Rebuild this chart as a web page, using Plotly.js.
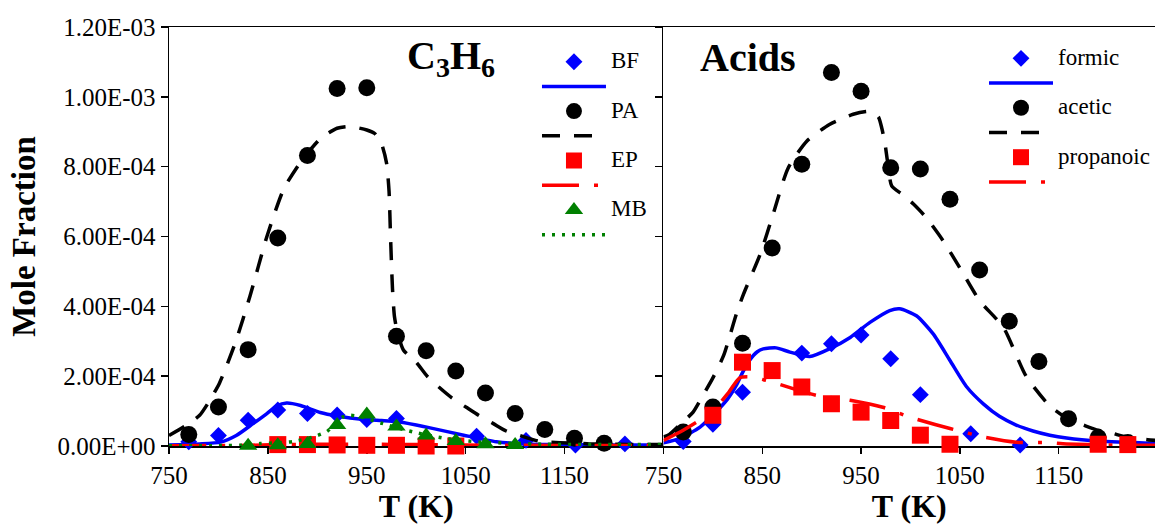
<!DOCTYPE html>
<html>
<head>
<meta charset="utf-8">
<script src="https://cdn.plot.ly/plotly-3.0.1.min.js"></script>
<style>html,body{margin:0;padding:0;background:#fff;}#chart{width:1155px;height:527px;}</style>
</head>
<body>
<div id="chart"></div>
<script>
// ---------- tick labels ----------
var xTickVals = [750, 850, 950, 1050, 1150];
var xTickText = ["750", "850", "950", "1050", "1150"];
var yTickVals = [0, 2e-4, 4e-4, 6e-4, 8e-4, 1e-3, 1.2e-3];
var yTickText = ["0.00E+00", "2.00E-04", "4.00E-04", "6.00E-04", "8.00E-04", "1.00E-03", "1.20E-03"];

// ---------- left panel: C3H6 (experimental points) ----------
var T_BF = [770, 800, 830, 860, 890, 920, 950, 980, 1061, 1111, 1161, 1211];
var BF   = [1.2e-5, 3.0e-5, 7.4e-5, 1.03e-4, 9.3e-5, 8.9e-5, 7.6e-5, 7.9e-5, 2.8e-5, 1.6e-5, 3e-6, 6e-6];
var T_PA = [770, 800, 830, 860, 890, 920, 950, 980, 1010, 1040, 1070, 1100, 1130, 1160, 1190];
var PA   = [3.3e-5, 1.12e-4, 2.76e-4, 5.96e-4, 8.32e-4, 1.024e-3, 1.026e-3, 3.14e-4, 2.73e-4, 2.15e-4, 1.52e-4, 9.3e-5, 4.7e-5, 2.2e-5, 8e-6];
var T_EP = [860, 890, 920, 950, 980, 1010, 1040];
var EP   = [4e-6, 4e-6, 3e-6, 2e-6, 2e-6, 0, 0];
var T_MB = [830, 860, 890, 920, 950, 980, 1010, 1040, 1070, 1100];
var MB   = [1e-6, 2e-6, 6e-6, 6e-5, 9e-5, 5.6e-5, 3e-5, 1.4e-5, 5e-6, 3e-6];

// ---------- left panel: model curves ----------
var T_BF_m = [750, 781, 802, 818, 835, 849, 859, 869, 883, 903, 920, 947, 965, 980, 1000, 1014, 1048, 1081, 1110, 1150, 1200, 1250];
var BF_m   = [3e-6, 6e-6, 1.1e-5, 3.0e-5, 6.4e-5, 9.3e-5, 1.15e-4, 1.23e-4, 1.16e-4, 9.6e-5, 8.6e-5, 7.6e-5, 7.3e-5, 7.0e-5, 6.0e-5, 5.2e-5, 3.1e-5, 1.2e-5, 6e-6, 4e-6, 3e-6, 3e-6];
var T_PA_m = [750, 765, 781, 790, 801, 817, 832, 849, 866, 883, 903, 920, 933, 950, 958, 965, 970, 972.5, 974, 976, 978, 981, 987, 1000, 1011, 1024, 1036, 1051, 1063, 1078, 1091, 1105, 1124, 1141, 1163, 1175, 1200, 1225, 1250];
var PA_m   = [3.0e-5, 5.5e-5, 8.8e-5, 1.25e-4, 1.8e-4, 2.95e-4, 4.3e-4, 6.0e-4, 7.36e-4, 8.13e-4, 8.8e-4, 9.1e-4, 9.15e-4, 9.05e-4, 8.95e-4, 8.65e-4, 8.1e-4, 7.3e-4, 6.0e-4, 4.5e-4, 3.7e-4, 3.25e-4, 2.75e-4, 2.4e-4, 2.0e-4, 1.66e-4, 1.38e-4, 1.1e-4, 8.8e-5, 6.4e-5, 4.3e-5, 3.0e-5, 1.4e-5, 1.0e-5, 8e-6, 6e-6, 5e-6, 4e-6, 4e-6];
var T_EP_m = [750, 830, 860, 900, 950, 1000, 1050, 1100, 1250];
var EP_m   = [1e-6, 2e-6, 4e-6, 5e-6, 5e-6, 4e-6, 3e-6, 2e-6, 1e-6];
var T_MB_m = [750, 800, 830, 842, 860, 876, 896, 910, 918, 925, 933, 945, 964, 997, 1031, 1065, 1095, 1130, 1200, 1250];
var MB_m   = [1e-6, 1e-6, 3e-6, 7e-6, 9e-6, 1.3e-5, 2.6e-5, 4.2e-5, 6.5e-5, 8.2e-5, 8.8e-5, 8.3e-5, 6.6e-5, 4.0e-5, 2.1e-5, 1.1e-5, 8e-6, 5e-6, 4e-6, 4e-6];

// ---------- right panel: Acids (experimental points) ----------
var T_formic = [770, 800, 830, 890, 920, 950, 980, 1010, 1061, 1111];
var formic   = [1.3e-5, 6.2e-5, 1.54e-4, 2.66e-4, 2.93e-4, 3.18e-4, 2.5e-4, 1.47e-4, 3.5e-5, 3e-6];
var T_acetic = [770, 800, 830, 860, 890, 920, 950, 980, 1010, 1040, 1070, 1100, 1130, 1160, 1190, 1220];
var acetic   = [4.0e-5, 1.12e-4, 2.94e-4, 5.67e-4, 8.07e-4, 1.07e-3, 1.016e-3, 7.97e-4, 7.93e-4, 7.07e-4, 5.04e-4, 3.57e-4, 2.42e-4, 7.8e-5, 2.4e-5, 1.0e-5];
var T_prop   = [800, 830, 860, 890, 920, 950, 980, 1010, 1040, 1190, 1220];
var prop     = [8.8e-5, 2.4e-4, 2.16e-4, 1.69e-4, 1.21e-4, 9.7e-5, 7.3e-5, 3.1e-5, 5e-6, 5e-6, 4e-6];

// ---------- right panel: model curves ----------
var T_formic_m = [750, 766, 787, 804, 815, 824, 830, 837, 845, 851, 864, 878, 898, 918, 939, 959, 979, 989, 1006, 1023, 1040, 1057, 1074, 1090, 1107, 1124, 1141, 1158, 1191, 1248];
var formic_m   = [9e-6, 2.1e-5, 5.4e-5, 1.0e-4, 1.35e-4, 1.75e-4, 2.1e-4, 2.45e-4, 2.7e-4, 2.78e-4, 2.81e-4, 2.69e-4, 2.56e-4, 2.78e-4, 3.11e-4, 3.54e-4, 3.88e-4, 3.93e-4, 3.73e-4, 3.21e-4, 2.45e-4, 1.69e-4, 1.2e-4, 8.5e-5, 6.0e-5, 4.3e-5, 3.1e-5, 2.3e-5, 1.4e-5, 7e-6];
var T_acetic_m = [750, 756, 770, 780, 790, 800, 811, 824, 831, 848, 861, 876, 895, 918, 942, 955, 962, 968, 971, 974, 977, 981, 992, 1003, 1016, 1033, 1050, 1070, 1094, 1117, 1141, 1161, 1175, 1190, 1205, 1215, 1240, 1248];
var acetic_m   = [2.6e-5, 3.3e-5, 7.0e-5, 9.7e-5, 1.45e-4, 1.95e-4, 2.6e-4, 3.8e-4, 4.35e-4, 5.5e-4, 6.64e-4, 7.95e-4, 8.73e-4, 9.21e-4, 9.5e-4, 9.58e-4, 9.58e-4, 9.4e-4, 9.1e-4, 8.7e-4, 8.1e-4, 7.45e-4, 7.2e-4, 6.93e-4, 6.54e-4, 5.88e-4, 5.1e-4, 4.16e-4, 3.4e-4, 2.0e-4, 1.15e-4, 7.5e-5, 6.0e-5, 4.5e-5, 3.6e-5, 2.8e-5, 1.8e-5, 1.6e-5];
var T_prop_m = [750, 770, 790, 803, 815, 827, 837, 854, 878, 905, 939, 972, 999, 1040, 1074, 1107, 1138, 1158, 1200, 1248];
var prop_m   = [1.6e-5, 4.5e-5, 8e-5, 1.1e-4, 1.5e-4, 1.95e-4, 1.98e-4, 1.88e-4, 1.67e-4, 1.45e-4, 1.31e-4, 1.11e-4, 8.3e-5, 5e-5, 2.6e-5, 1.1e-5, 1.0e-5, 6e-6, 3e-6, 2e-6];

// ---------- styling ----------
var FONT = "Liberation Serif";
var BLUE = "#0000ff", BLACK = "#000000", RED = "#ff0000", GREEN = "#008000";
var LW = 3.5;
var DASH = "18px,14px";
var DASHDOT = "37px,15px,4px,15px";
var DOT = "3px,7px";
function lbl(t) { return t ? '<span style="font-size:23px">' + t + '</span>' : ' '; }

function pts(x, y, name, sym, size, color, xa, ya, leg) {
  return {x: x, y: y, type: "scatter", mode: "markers", name: lbl(name), cliponaxis: false,
          marker: {symbol: sym, size: size, color: color}, xaxis: xa, yaxis: ya, legend: leg};
}
function crv(x, y, color, dash, xa, ya, leg) {
  return {x: x, y: y, type: "scatter", mode: "lines", name: lbl(""), cliponaxis: false,
          line: {color: color, width: LW, dash: dash, shape: "spline", smoothing: 0.6},
          xaxis: xa, yaxis: ya, legend: leg};
}

var data = [
  pts(T_BF, BF, "BF", "diamond", 13, BLUE, "x", "y", "legend"),
  crv(T_BF_m, BF_m, BLUE, "solid", "x", "y", "legend"),
  pts(T_PA, PA, "PA", "circle", 17, BLACK, "x", "y", "legend"),
  crv(T_PA_m, PA_m, BLACK, DASH, "x", "y", "legend"),
  pts(T_EP, EP, "EP", "square", 17, RED, "x", "y", "legend"),
  crv(T_EP_m, EP_m, RED, DASHDOT, "x", "y", "legend"),
  pts(T_MB, MB, "MB", "triangle-up", 16, GREEN, "x", "y", "legend"),
  crv(T_MB_m, MB_m, GREEN, DOT, "x", "y", "legend"),

  pts(T_formic, formic, "formic", "diamond", 13, BLUE, "x2", "y2", "legend2"),
  crv(T_formic_m, formic_m, BLUE, "solid", "x2", "y2", "legend2"),
  pts(T_acetic, acetic, "acetic", "circle", 17, BLACK, "x2", "y2", "legend2"),
  crv(T_acetic_m, acetic_m, BLACK, DASH, "x2", "y2", "legend2"),
  pts(T_prop, prop, "propanoic", "square", 17, RED, "x2", "y2", "legend2"),
  crv(T_prop_m, prop_m, RED, DASHDOT, "x2", "y2", "legend2")
];

var xBase = {
  showgrid: false, zeroline: false, showline: true, linecolor: "#000", linewidth: 1.5, mirror: true,
  ticks: "outside", ticklen: 6, tickwidth: 1.5, tickcolor: "#000",
  tickvals: xTickVals, ticktext: xTickText,
  tickfont: {family: FONT, size: 25, color: "#000"},
  title: {text: "<b>T (K)</b>", font: {family: FONT, size: 32, color: "#000"}, standoff: 6},
  layer: "below traces", fixedrange: true
};
var yBase = {
  showgrid: false, zeroline: false, showline: true, linecolor: "#000", linewidth: 1.5,
  ticks: "outside", ticklen: 7, tickwidth: 1.5, tickcolor: "#000",
  tickvals: yTickVals, ticktext: yTickText, range: [0, 1.2e-3],
  tickfont: {family: FONT, size: 25, color: "#000"},
  layer: "below traces", fixedrange: true
};

var layout = {
  width: 1155, height: 527,
  margin: {l: 169, r: 0, t: 27, b: 81},
  paper_bgcolor: "#fff", plot_bgcolor: "#fff",
  font: {family: FONT, color: "#000"},
  showlegend: true,
  xaxis: Object.assign({}, xBase, {domain: [0, 0.5015], range: [750, 1250], anchor: "y"}),
  xaxis2: Object.assign({}, xBase, {domain: [0.5015, 1], range: [750, 1247.5], anchor: "y2"}),
  yaxis: Object.assign({}, yBase, {anchor: "x",
    title: {text: "<b>Mole Fraction</b>", font: {family: FONT, size: 33, color: "#000"}, standoff: 12}}),
  yaxis2: Object.assign({}, yBase, {anchor: "x2", showticklabels: false}),
  legend: {x: 0.3732, y: 0.9586, xanchor: "left", yanchor: "top", bgcolor: "rgba(0,0,0,0)",
           font: {family: FONT, size: 16.7, color: "#000"}, itemwidth: 64, tracegroupgap: 0, traceorder: "normal"},
  legend2: {x: 0.8269, y: 0.9666, xanchor: "left", yanchor: "top", bgcolor: "rgba(0,0,0,0)",
           font: {family: FONT, size: 16.7, color: "#000"}, itemwidth: 64, tracegroupgap: 0, traceorder: "normal"},
  annotations: [
    {xref: "paper", yref: "paper", x: (405 - 169) / 986, y: (446 - 58) / 419, xanchor: "left", yanchor: "middle",
     showarrow: false, text: "<b>C<sub>3</sub>H<sub>6</sub></b>", font: {family: FONT, size: 40, color: "#000"}},
    {xref: "paper", yref: "paper", x: (698 - 169) / 986, y: (446 - 58) / 419, xanchor: "left", yanchor: "middle",
     showarrow: false, text: "<b>Acids</b>", font: {family: FONT, size: 40, color: "#000"}}
  ]
};

Plotly.newPlot("chart", data, layout, {displayModeBar: false, staticPlot: true});
</script>
</body>
</html>
